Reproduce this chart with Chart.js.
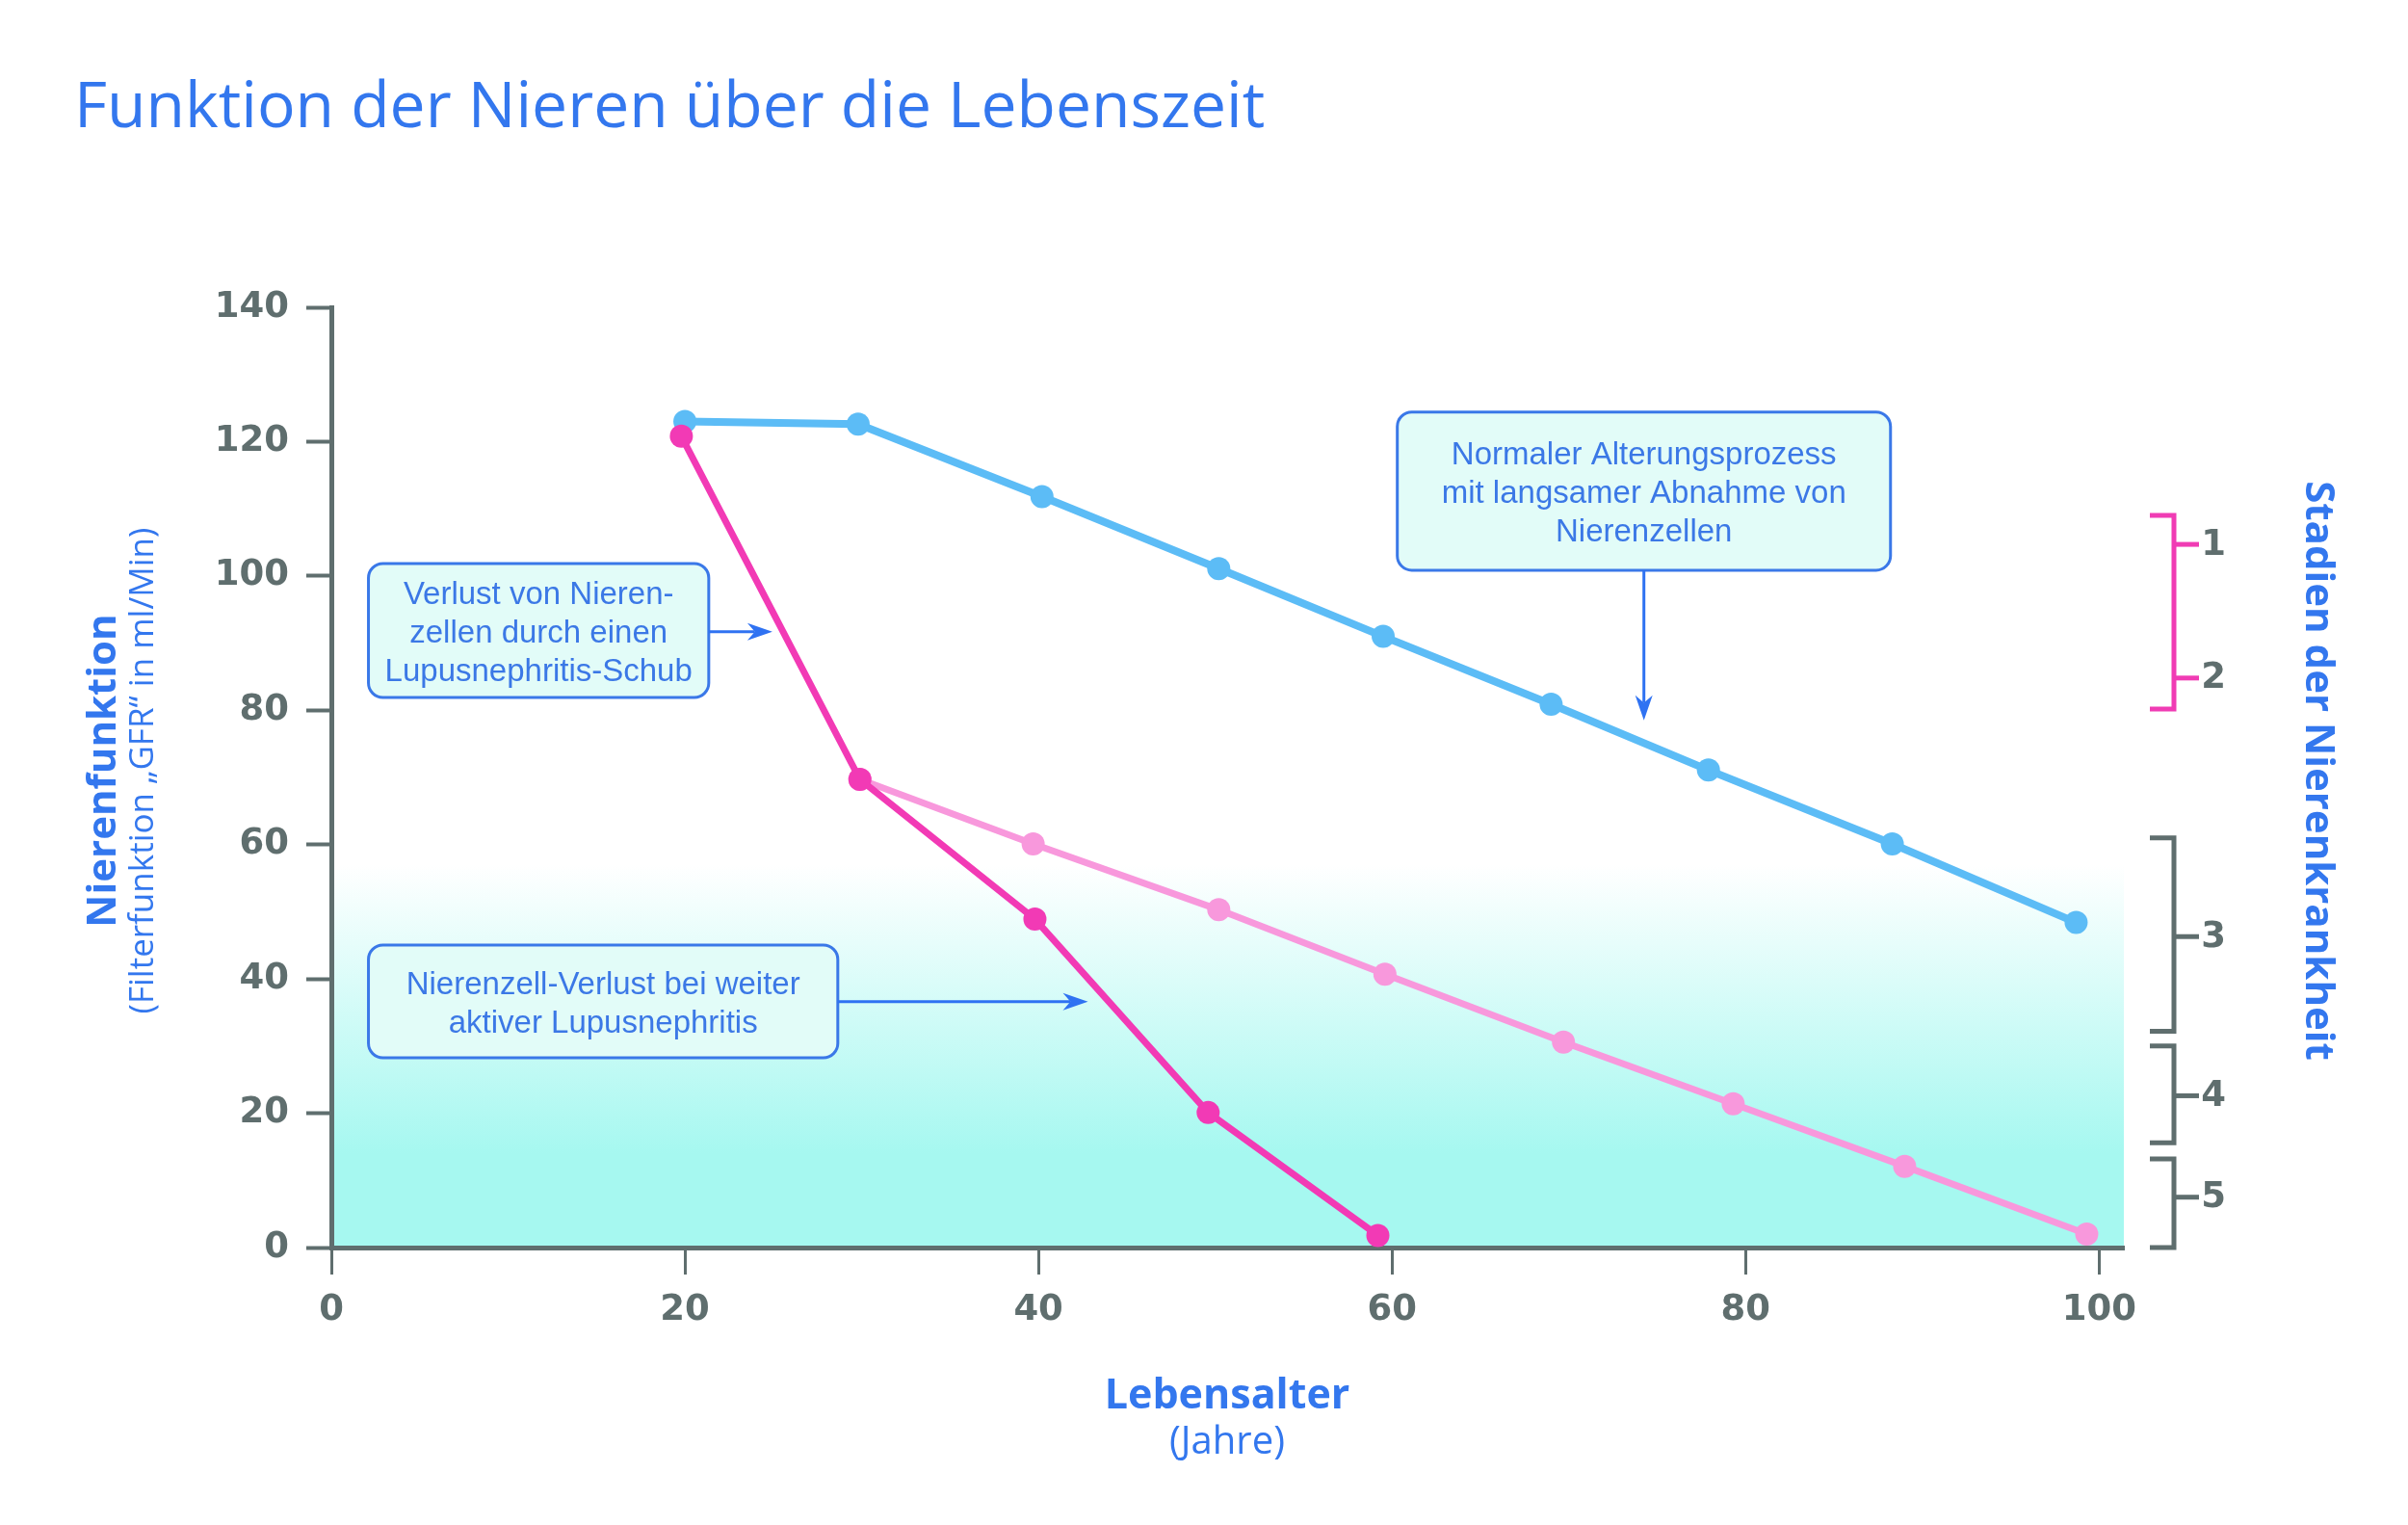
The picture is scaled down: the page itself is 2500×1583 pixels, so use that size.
<!DOCTYPE html>
<html>
<head>
<meta charset="utf-8">
<script src="https://cdn.jsdelivr.net/npm/chart.js@4.4.1/dist/chart.umd.min.js"></script>
<style>
  html, body { margin: 0; padding: 0; background: #fff; }
  canvas { display: block; }
</style>
</head>
<body>
<canvas id="kidneyChart" width="2500" height="1583"></canvas>
<script>
// values
var ageTicks = [0, 20, 40, 60, 80, 100];
var gfrTicks = [0, 20, 40, 60, 80, 100, 120, 140];

var normalAge = [20, 29.8, 40.2, 50.2, 59.5, 69, 77.9, 88.3, 98.7];
var normalGfr = [123, 122.6, 111.8, 101.1, 91, 80.9, 71.1, 60.1, 48.4];

var flareAge = [19.8, 29.9, 39.8, 49.6, 59.2];
var flareGfr = [120.8, 69.7, 48.9, 20.1, 1.8];

var slowAge = [29.9, 39.7, 50.2, 59.6, 69.7, 79.3, 89, 99.3];
var slowGfr = [69.7, 60.1, 50.3, 40.7, 30.6, 21.4, 12.1, 2];

// Stadien der Nierenkrankheit (brackets on the right, in GFR units)
var stageLabels = ['1', '2', '3', '4', '5'];
var stageMarks = [104.7, 84.8, 46.3, 22.6, 7.5];
var bracketTop = [109, 61, 30, 13.2];
var bracketBottom = [80.2, 32.2, 15.6, 0];
var bracketStages = [[0, 1], [2], [3], [4]];

var noteTexts = [
    ['Verlust von Nieren-', 'zellen durch einen', 'Lupusnephritis-Schub'],
    ['Nierenzell-Verlust bei weiter', 'aktiver Lupusnephritis'],
    ['Normaler Alterungsprozess', 'mit langsamer Abnahme von', 'Nierenzellen']
];

var grey = '#5f6e6e';
var blueText = '#3377ee';

function points(xs, ys) {
    return xs.map(function(x, i) { return { x: x, y: ys[i] }; });
}

function roundedBox(c, x, y, w, h, r) {
    c.beginPath();
    c.moveTo(x + r, y);
    c.lineTo(x + w - r, y);
    c.arcTo(x + w, y, x + w, y + r, r);
    c.lineTo(x + w, y + h - r);
    c.arcTo(x + w, y + h, x + w - r, y + h, r);
    c.lineTo(x + r, y + h);
    c.arcTo(x, y + h, x, y + h - r, r);
    c.lineTo(x, y + r);
    c.arcTo(x, y, x + r, y, r);
    c.closePath();
}

function arrow(c, x1, y1, x2, y2) {
    var a = Math.atan2(y2 - y1, x2 - x1);
    var len = 26, half = 9;
    var cos = Math.cos(a), sin = Math.sin(a);
    c.beginPath();
    c.moveTo(x1, y1);
    c.lineTo(x2 - len * cos * 0.7, y2 - len * sin * 0.7);
    c.stroke();
    c.beginPath();
    c.moveTo(x2, y2);
    c.lineTo(x2 - len * cos - half * sin, y2 - len * sin + half * cos);
    c.lineTo(x2 - len * cos * 0.7, y2 - len * sin * 0.7);
    c.lineTo(x2 - len * cos + half * sin, y2 - len * sin - half * cos);
    c.closePath();
    c.fill();
}

var backgroundBand = {
    id: 'backgroundBand',
    beforeDraw: function(chart) {
        var c = chart.ctx, area = chart.chartArea, y = chart.scales.y;
        var g = c.createLinearGradient(0, y.getPixelForValue(57), 0, y.getPixelForValue(14));
        g.addColorStop(0, '#ffffff');
        g.addColorStop(1, '#a6f8f0');
        c.save();
        c.fillStyle = g;
        c.fillRect(area.left, area.top, area.right - area.left, area.bottom - area.top);
        c.restore();
    }
};

var extras = {
    id: 'extras',
    afterDraw: function(chart, args, opts) {
        var c = chart.ctx, xs = chart.scales.x, ys = chart.scales.y;
        c.save();

        // title
        c.fillStyle = blueText;
        c.textAlign = 'left';
        c.textBaseline = 'alphabetic';
        c.font = '66px "Open Sans"';
        c.fillText('Funktion der Nieren über die Lebenszeit', 77, 132);

        // x axis title
        c.textAlign = 'center';
        c.font = 'bold 43px "Open Sans"';
        c.fillText('Lebensalter', 1274, 1462);
        c.font = '40px "Open Sans"';
        c.fillText('(Jahre)', 1274, 1509);

        // y axis title
        c.save();
        c.translate(120, 800);
        c.rotate(-Math.PI / 2);
        c.font = 'bold 42px "Open Sans"';
        c.fillText('Nierenfunktion', 0, 0);
        c.restore();
        c.save();
        c.translate(159, 800);
        c.rotate(-Math.PI / 2);
        c.font = '35px "Open Sans"';
        c.fillText('(Filterfunktion \u201eGFR\u201c in ml/Min)', 0, 0);
        c.restore();

        // right title
        c.save();
        c.translate(2394, 800);
        c.rotate(Math.PI / 2);
        c.font = 'bold 42px "Open Sans"';
        c.fillText('Stadien der Nierenkrankheit', 0, 0);
        c.restore();

        // stage brackets
        var bx = 2257;
        c.lineWidth = 5;
        c.lineCap = 'butt';
        bracketTop.forEach(function(top, i) {
            var col = i === 0 ? '#f03cb4' : grey;
            var yt = ys.getPixelForValue(top), yb = ys.getPixelForValue(bracketBottom[i]);
            c.strokeStyle = col;
            c.beginPath();
            c.moveTo(bx - 25, yt);
            c.lineTo(bx, yt);
            c.lineTo(bx, yb);
            c.lineTo(bx - 25, yb);
            c.stroke();
            bracketStages[i].forEach(function(s) {
                var ym = ys.getPixelForValue(stageMarks[s]);
                c.beginPath();
                c.moveTo(bx, ym);
                c.lineTo(bx + 26, ym);
                c.stroke();
                c.fillStyle = grey;
                c.font = 'bold 37px "DejaVu Sans"';
                c.textAlign = 'center';
                c.textBaseline = 'middle';
                c.fillText(stageLabels[s], 2298, ym + 1);
            });
        });

        // notes with arrows
        opts.notes.forEach(function(n, i) {
            var x1 = xs.getPixelForValue(n.x1), x2 = xs.getPixelForValue(n.x2);
            var y1 = ys.getPixelForValue(n.top), y2 = ys.getPixelForValue(n.bottom);
            roundedBox(c, x1, y1, x2 - x1, y2 - y1, 15);
            c.fillStyle = '#e2fcf8';
            c.fill();
            c.lineWidth = 3;
            c.strokeStyle = '#3a78e8';
            c.stroke();

            var lines = noteTexts[i];
            var cx = (x1 + x2) / 2, cy = (y1 + y2) / 2 + 3;
            c.fillStyle = '#3b78e6';
            c.font = '33px "Liberation Sans"';
            c.textAlign = 'center';
            c.textBaseline = 'middle';
            lines.forEach(function(t, k) {
                c.fillText(t, cx, cy + (k - (lines.length - 1) / 2) * 40);
            });

            var tx = xs.getPixelForValue(n.tipX), ty = ys.getPixelForValue(n.tipY);
            c.strokeStyle = '#2f72f2';
            c.fillStyle = '#2f72f2';
            c.lineWidth = 3;
            if (n.from === 'right') {
                arrow(c, x2, ty, tx, ty);
            } else {
                arrow(c, tx, y2, tx, ty);
            }
        });
        c.restore();
    }
};

var tickFont = { family: 'DejaVu Sans', size: 37, weight: 'bold' };

var myChart = new Chart(document.getElementById('kidneyChart').getContext('2d'), {
    type: 'line',
    data: {
        datasets: [{
            label: 'Aktive Lupusnephritis',
            data: points(flareAge, flareGfr),
            borderColor: '#f23ab5',
            backgroundColor: '#f23ab5',
            borderWidth: 7,
            pointRadius: 12,
            pointBorderWidth: 0
        }, {
            label: 'Nach dem Schub',
            data: points(slowAge, slowGfr),
            borderColor: '#f898dc',
            backgroundColor: '#f898dc',
            borderWidth: 7,
            pointRadius: 12,
            pointBorderWidth: 0
        }, {
            label: 'Normaler Alterungsprozess',
            data: points(normalAge, normalGfr),
            borderColor: '#5cbcf6',
            backgroundColor: '#5cbcf6',
            borderWidth: 8,
            pointRadius: 12,
            pointBorderWidth: 0
        }]
    },
    options: {
        responsive: false,
        animation: false,
        devicePixelRatio: 1,
        clip: false,
        layout: {
            padding: { top: 319, left: 224, right: 295, bottom: 198 }
        },
        scales: {
            x: {
                type: 'linear',
                min: 0,
                max: 101.4,
                afterBuildTicks: function(scale) {
                    scale.ticks = ageTicks.map(function(v) { return { value: v }; });
                },
                afterFit: function(scale) { scale.height = 90; },
                grid: { drawOnChartArea: false, drawTicks: true, tickLength: 28, tickWidth: 3, tickColor: grey },
                border: { display: true, color: grey, width: 5 },
                ticks: { color: grey, font: tickFont, padding: 15, maxRotation: 0, autoSkip: false }
            },
            y: {
                type: 'linear',
                min: 0,
                max: 140,
                afterBuildTicks: function(scale) {
                    scale.ticks = gfrTicks.map(function(v) { return { value: v }; });
                },
                afterFit: function(scale) { scale.width = 120; },
                grid: { drawOnChartArea: false, drawTicks: true, tickLength: 26, tickWidth: 4, tickColor: grey },
                border: { display: true, color: grey, width: 5 },
                ticks: { color: grey, font: tickFont, padding: 18 }
            }
        },
        plugins: {
            legend: { display: false },
            tooltip: { enabled: false },
            extras: {
                notes: [
                    { x1: 2.1, x2: 21.35, top: 101.85, bottom: 81.9, from: 'right', tipX: 24.95, tipY: 91.7 },
                    { x1: 2.1, x2: 28.65, top: 45.05, bottom: 28.25, from: 'right', tipX: 42.8, tipY: 36.6 },
                    { x1: 60.3, x2: 88.2, top: 124.4, bottom: 100.85, from: 'bottom', tipX: 74.25, tipY: 78.5 }
                ]
            }
        }
    },
    plugins: [backgroundBand, extras]
});
</script>
</body>
</html>
